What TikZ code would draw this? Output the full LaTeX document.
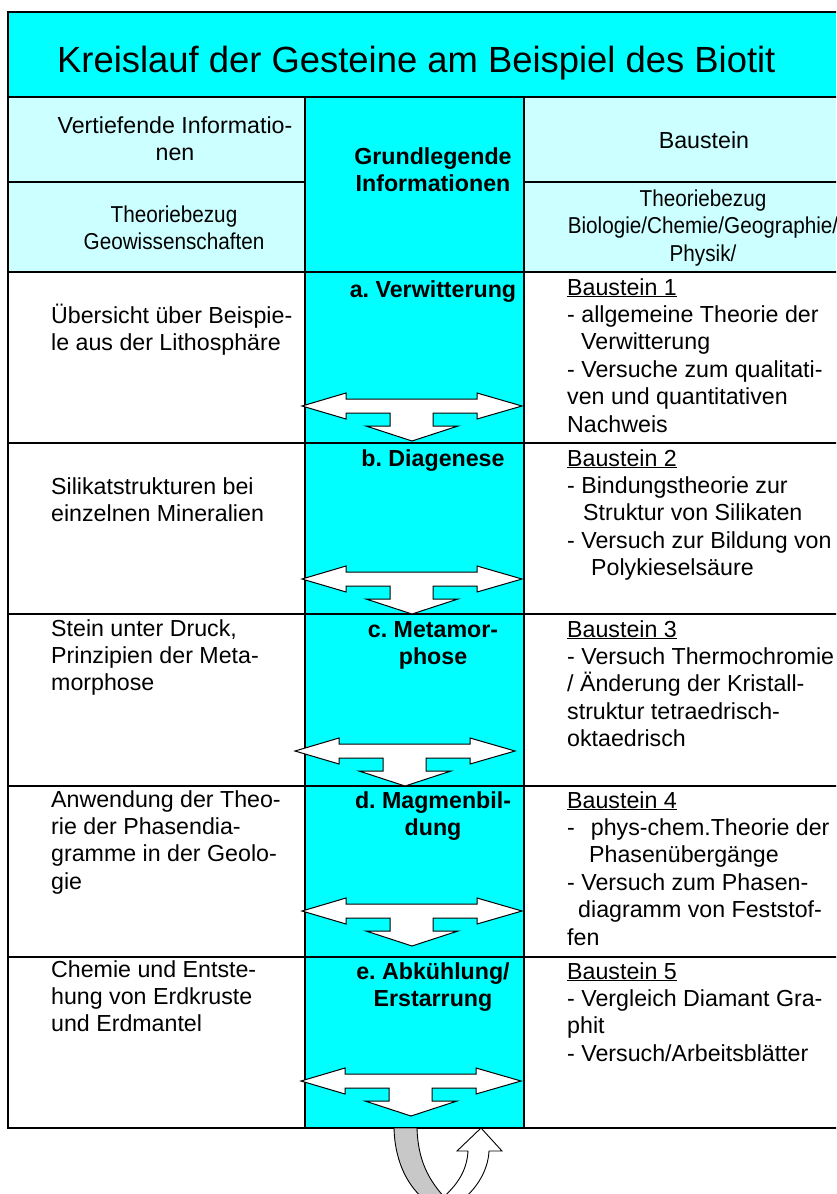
\documentclass[tikz,border=0pt]{standalone}
\usepackage{fontspec}
\setmainfont{Liberation Sans}
\newfontfamily\condfont[FakeStretch=0.9]{Liberation Sans}
\frenchspacing
\definecolor{cyanA}{HTML}{00FFFF}
\definecolor{cyanL}{HTML}{CCFFFF}
\definecolor{grayA}{HTML}{C8C8C8}
\newcommand\myCbox[2]{\parbox[t]{#1pt}{\centering #2}}
\newcommand\myLbox[2]{\parbox[t]{#1pt}{\raggedright #2}}
\begin{document}
\begin{tikzpicture}[x=1pt,y=-1pt,line join=miter,
  rule/.style={line width=2pt},
  txt/.style={inner sep=0pt,anchor=base west,font=\fontsize{23.2}{27.4}\selectfont},
  ctxt/.style={inner sep=0pt,anchor=base,font=\fontsize{23.2}{27.6}\selectfont},
  cond/.style={font=\condfont\fontsize{23}{27.8}\selectfont},
  btxt/.style={inner sep=0pt,anchor=base,font=\fontsize{23.2}{27.2}\selectfont\bfseries},
  titletxt/.style={inner sep=0pt,anchor=base west,font=\fontsize{36.4}{40}\selectfont},
  lrdarrow/.pic={\draw[fill=white,line width=1pt]
     (-110,0) -- (-66,-13) -- (-66,-7) -- (65,-7) -- (65,-13) -- (110,0)
     -- (65,13) -- (65,7) -- (21,7) -- (21,20) -- (46,20) -- (0,35)
     -- (-46,20) -- (-22,20) -- (-22,7) -- (-66,7) -- (-66,13) -- cycle;}
]
\useasboundingbox (0,0) rectangle (836,1194);
\begin{scope}
\clip (0,0) rectangle (836,1194);
% fills
\fill[cyanA] (8,12) rectangle (900,97);
\fill[cyanL] (8,97) rectangle (305,272);
\fill[cyanL] (524,97) rectangle (900,272);
\fill[cyanA] (305,97) rectangle (524,1128);
% rules
\draw[rule] (8,12) -- (900,12);
\draw[rule] (8,97) -- (900,97);
\draw[rule] (8,182) -- (305,182);
\draw[rule] (524,182) -- (900,182);
\foreach \yy in {272,443,614,786,957,1128} \draw[rule] (8,\yy) -- (900,\yy);
\draw[rule] (8,11) -- (8,1129);
\draw[line width=1.4pt] (305,97) -- (305,1128);
\draw[rule] (524,97) -- (524,1128);
% arrows
\pic at (412,406) {lrdarrow};
\pic at (412,579) {lrdarrow};
\pic at (405,751) {lrdarrow};
\pic at (412,911) {lrdarrow};
\pic at (411,1081) {lrdarrow};
% title
\node[titletxt] (title) at (57,72) {Kreislauf der Gesteine am Beispiel des Biotit};
% headers
\node[ctxt] (h1l) at (175,133) {\myCbox{290}{Vertiefende Informatio-\\nen}};
\node[ctxt] (h1r) at (704,148) {Baustein};
\node[ctxt,cond] (h2l) at (174,222) {\myCbox{290}{Theoriebezug\\Geowissenschaften}};
\node[ctxt,cond] (h2r) at (703,206) {\myCbox{400}{Theoriebezug\\Biologie/Chemie/Geographie/\\Physik/}};
\node[btxt] (hm) at (433,164) {\myCbox{210}{Grundlegende\\Informationen}};
% middle labels
\node[btxt] (ma) at (433,297) {\myCbox{210}{a. Verwitterung}};
\node[btxt] (mb) at (433,466) {\myCbox{210}{b. Diagenese}};
\node[btxt] (mc) at (433,637) {\myCbox{210}{c. Metamor-\\phose}};
\node[btxt] (md) at (433,808) {\myCbox{210}{d. Magmenbil-\\dung}};
\node[btxt] (me) at (433,979) {\myCbox{210}{e. Abkühlung/\\Erstarrung}};
% left column
\node[txt] (la) at (51,323) {\myLbox{250}{Übersicht über Beispie-\\le aus der Lithosphäre}};
\node[txt] (lb) at (51,494) {\myLbox{250}{Silikatstrukturen bei\\einzelnen Mineralien}};
\node[txt] (lc) at (51,636) {\myLbox{250}{Stein unter Druck,\\Prinzipien der Meta-\\morphose}};
\node[txt] (ld) at (51,807) {\myLbox{250}{Anwendung der Theo-\\rie der Phasendia-\\gramme in der Geolo-\\gie}};
\node[txt] (le) at (51,977) {\myLbox{250}{Chemie und Entste-\\hung von Erdkruste\\und Erdmantel}};
% right column
\node[txt] (ra) at (567,295) {\myLbox{400}{\underline{Baustein 1}\\- allgemeine Theorie der\\\hspace*{14pt}Verwitterung\\- Versuche zum qualitati-\\ven und quantitativen\\Nachweis}};
\node[txt] (rb) at (567,466) {\myLbox{400}{\underline{Baustein 2}\\- Bindungstheorie zur\\\hspace*{16pt}Struktur von Silikaten\\- Versuch zur Bildung von\\\hspace*{24pt}Polykieselsäure}};
\node[txt] (rc) at (567,637) {\myLbox{400}{\underline{Baustein 3}\\- Versuch Thermochromie\\/ Änderung der Kristall-\\struktur tetraedrisch-\\oktaedrisch}};
\node[txt] (rd) at (567,808) {\myLbox{400}{\underline{Baustein 4}\\-\hspace*{16pt}phys-chem.Theorie der\\\hspace*{22pt}Phasenübergänge\\- Versuch zum Phasen-\\\hspace*{11pt}diagramm von Feststof-\\fen}};
\node[txt] (re) at (567,979) {\myLbox{400}{\underline{Baustein 5}\\- Vergleich Diamant Gra-\\phit\\- Versuch/Arbeitsblätter}};
% U-turn arrow
\draw[fill=grayA,line width=0.9pt] (394,1128) .. controls (395,1165) and (410,1188) .. (425,1200)
   -- (447,1200) .. controls (428,1180) and (418,1160) .. (417,1128) -- cycle;
\draw[fill=white,line width=0.9pt] (481,1128) -- (502,1151) -- (489,1151)
   .. controls (488,1172) and (475,1190) .. (462,1200) -- (440,1200)
   .. controls (458,1185) and (467,1170) .. (468,1151) -- (457,1151) -- cycle;
\end{scope}
\end{tikzpicture}
\end{document}
